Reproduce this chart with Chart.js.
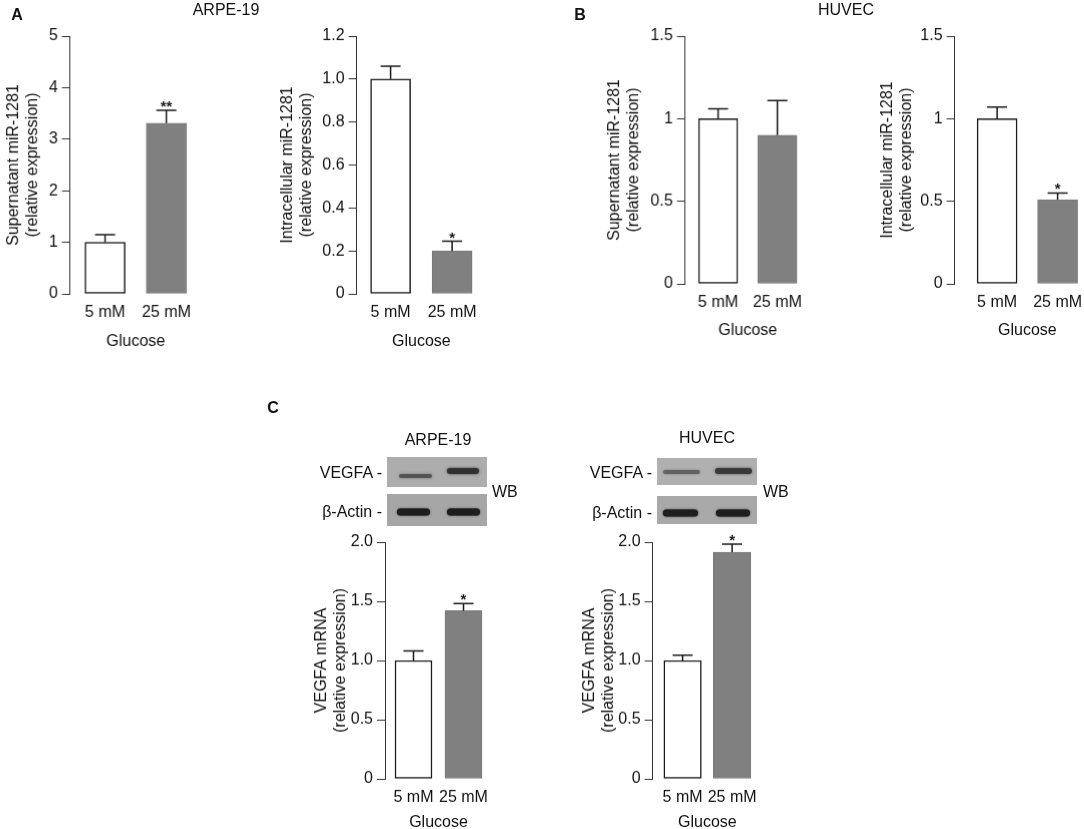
<!DOCTYPE html>
<html>
<head>
<meta charset="utf-8">
<script src="https://cdn.jsdelivr.net/npm/chart.js@4.4.1/dist/chart.umd.min.js"></script>
<style>
html, body { margin: 0; padding: 0; background: #fff; overflow: hidden; }
body { width: 1084px; height: 829px; position: relative; font-family: "Liberation Sans", Arial, sans-serif; color: #111; }
.box { position: absolute; }
.lbl { position: absolute; font-size: 16px; line-height: 16px; white-space: nowrap; transform: translate(-50%, -50%); }
.r { transform: translate(-100%, -50%); }
.l { transform: translate(0, -50%); }
.b { font-weight: bold; }
#blots { position: absolute; left: 0; top: 0; }
</style>
</head>
<body>
<canvas id="blots" width="1084" height="829"></canvas>

<div class="lbl b" style="left:17px;top:15px">A</div>
<div class="lbl" style="left:226px;top:10px">ARPE-19</div>
<div class="lbl b" style="left:580px;top:15px">B</div>
<div class="lbl" style="left:846px;top:10px">HUVEC</div>
<div class="lbl b" style="left:273px;top:408px">C</div>

<div class="lbl" style="left:438px;top:440px">ARPE-19</div>
<div class="lbl r" style="left:382px;top:473px">VEGFA -</div>
<div class="lbl r" style="left:382px;top:512px">β-Actin -</div>
<div class="lbl l" style="left:492px;top:492px">WB</div>

<div class="lbl" style="left:707px;top:438px">HUVEC</div>
<div class="lbl r" style="left:652px;top:473px">VEGFA -</div>
<div class="lbl r" style="left:652px;top:513px">β-Actin -</div>
<div class="lbl l" style="left:763px;top:492px">WB</div>

<script>
// categories and values
var categories = ['5 mM', '25 mM'];

var arpeSupValues = [1.0, 3.31];
var arpeSupErrors = [0.15, 0.25];
var arpeSupSig = ['', '**'];
var arpeSupTicks = [0, 1, 2, 3, 4, 5];
var arpeSupTickLabels = ['0', '1', '2', '3', '4', '5'];

var arpeIntValues = [1.0, 0.2];
var arpeIntErrors = [0.06, 0.045];
var arpeIntSig = ['', '*'];
var arpeIntTicks = [0, 0.2, 0.4, 0.6, 0.8, 1.0, 1.2];
var arpeIntTickLabels = ['0', '0.2', '0.4', '0.6', '0.8', '1.0', '1.2'];

var huvecSupValues = [1.0, 0.9];
var huvecSupErrors = [0.06, 0.21];
var huvecSupSig = ['', ''];

var huvecIntValues = [1.0, 0.51];
var huvecIntErrors = [0.07, 0.04];
var huvecIntSig = ['', '*'];

var huvecTicks = [0, 0.5, 1, 1.5];
var huvecTickLabels = ['0', '0.5', '1', '1.5'];

var arpeVegfaValues = [1.0, 1.42];
var arpeVegfaErrors = [0.08, 0.06];
var arpeVegfaSig = ['', '*'];

var huvecVegfaValues = [1.0, 1.915];
var huvecVegfaErrors = [0.045, 0.068];
var huvecVegfaSig = ['', '*'];

var vegfaTicks = [0, 0.5, 1.0, 1.5, 2.0];
var vegfaTickLabels = ['0', '0.5', '1.0', '1.5', '2.0'];

var supTitle = ['Supernatant miR-1281', '(relative expression)'];
var intTitle = ['Intracellular miR-1281', '(relative expression)'];
var vegfaTitle = ['VEGFA mRNA', '(relative expression)'];
var xTitle = 'Glucose';

Chart.defaults.font.family = '"Liberation Sans", Arial, sans-serif';
Chart.defaults.font.size = 16;
Chart.defaults.color = '#111';

// error bars + significance marks, drawn on top of the bars
var errorBars = {
    id: 'errorBars',
    afterDatasetsDraw: function (chart) {
        var ctx = chart.ctx;
        var ys = chart.scales.y;
        var ds = chart.data.datasets[0];
        var meta = chart.getDatasetMeta(0);
        ctx.save();
        ctx.strokeStyle = '#1a1a1a';
        ctx.fillStyle = '#1a1a1a';
        ctx.lineWidth = 1.5;
        ctx.font = 'bold 15px "Liberation Sans", Arial, sans-serif';
        ctx.textAlign = 'center';
        ctx.textBaseline = 'alphabetic';
        meta.data.forEach(function (bar, i) {
            var v = ds.data[i].y;
            var y0 = ys.getPixelForValue(v);
            var y1 = ys.getPixelForValue(v + ds.errors[i]);
            ctx.beginPath();
            ctx.moveTo(bar.x, y0);
            ctx.lineTo(bar.x, y1);
            ctx.moveTo(bar.x - 10, y1);
            ctx.lineTo(bar.x + 10, y1);
            ctx.stroke();
            if (ds.sig[i]) ctx.fillText(ds.sig[i], bar.x, y1 + 1);
        });
        ctx.restore();
    }
};

function makeChart(lay, values, errors, sig, ticks, tickLabels, yTitle) {
    var u = lay.c2 - lay.c1;
    var side = (lay.c1 - lay.axisX) / u;
    var areaW = (1 + 2 * side) * u;
    var padTop = 20, padRight = 24;
    var yw = lay.axisX - lay.scaleLeft;
    var xh = lay.glucoseY + 9.6 - lay.bottom;

    var div = document.createElement('div');
    div.className = 'box';
    div.style.left = lay.scaleLeft + 'px';
    div.style.top = (lay.top - padTop) + 'px';
    div.style.width = (yw + areaW + padRight) + 'px';
    div.style.height = (padTop + lay.bottom - lay.top + xh) + 'px';
    var cv = document.createElement('canvas');
    div.appendChild(cv);
    document.body.appendChild(div);

    return new Chart(cv.getContext('2d'), {
        type: 'bar',
        data: {
            datasets: [{
                data: values.map(function (v, i) { return { x: i + 1, y: v }; }),
                errors: errors,
                sig: sig,
                backgroundColor: ['#ffffff', '#808080'],
                borderColor: ['#1a1a1a', '#7a7a7a'],
                borderWidth: [1.5, 1],
                borderSkipped: false,
                barThickness: lay.barW
            }]
        },
        options: {
            responsive: true,
            maintainAspectRatio: false,
            animation: false,
            layout: { padding: { top: padTop, right: padRight, left: 0, bottom: 0 } },
            plugins: { legend: { display: false }, tooltip: { enabled: false } },
            scales: {
                x: {
                    type: 'linear',
                    offset: false,
                    min: 1 - side,
                    max: 2 + side,
                    afterBuildTicks: function (s) {
                        s.ticks = categories.map(function (c, i) { return { value: i + 1 }; });
                    },
                    afterFit: function (s) { s.height = xh; },
                    grid: { display: false, drawTicks: false, offset: false },
                    border: { display: false },
                    ticks: {
                        autoSkip: false,
                        maxRotation: 0,
                        padding: 9,
                        callback: function (v) { return categories[v - 1]; }
                    },
                    title: { display: true, text: xTitle, padding: 0 }
                },
                y: {
                    min: 0,
                    max: ticks[ticks.length - 1],
                    afterBuildTicks: function (s) {
                        s.ticks = ticks.map(function (t) { return { value: t }; });
                    },
                    afterFit: function (s) { s.width = yw; },
                    grid: { drawOnChartArea: false, drawTicks: true, tickLength: 8, color: '#333', lineWidth: 1 },
                    border: { display: true, color: '#333', width: 1 },
                    ticks: {
                        padding: 4,
                        callback: function (v, i) { return tickLabels[i]; }
                    },
                    title: { display: true, text: yTitle, padding: 0 }
                }
            }
        },
        plugins: [errorBars]
    });
}

makeChart({ scaleLeft: 4.4, axisX: 70, top: 36, bottom: 293, c1: 105, c2: 166, barW: 40, glucoseY: 341 },
    arpeSupValues, arpeSupErrors, arpeSupSig, arpeSupTicks, arpeSupTickLabels, supTitle);
makeChart({ scaleLeft: 278.4, axisX: 357, top: 36, bottom: 293, c1: 391, c2: 452.5, barW: 40, glucoseY: 341 },
    arpeIntValues, arpeIntErrors, arpeIntSig, arpeIntTicks, arpeIntTickLabels, intTitle);
makeChart({ scaleLeft: 605.4, axisX: 685, top: 36, bottom: 283, c1: 718, c2: 777, barW: 39, glucoseY: 330 },
    huvecSupValues, huvecSupErrors, huvecSupSig, huvecTicks, huvecTickLabels, supTitle);
makeChart({ scaleLeft: 878.4, axisX: 955, top: 36, bottom: 283, c1: 997.5, c2: 1058, barW: 40, glucoseY: 330 },
    huvecIntValues, huvecIntErrors, huvecIntSig, huvecTicks, huvecTickLabels, intTitle);
makeChart({ scaleLeft: 312, axisX: 385, top: 542, bottom: 778, c1: 413.5, c2: 463.5, barW: 37, glucoseY: 822 },
    arpeVegfaValues, arpeVegfaErrors, arpeVegfaSig, vegfaTicks, vegfaTickLabels, vegfaTitle);
makeChart({ scaleLeft: 580.4, axisX: 653, top: 542, bottom: 778, c1: 683, c2: 732.5, barW: 37.5, glucoseY: 822 },
    huvecVegfaValues, huvecVegfaErrors, huvecVegfaSig, vegfaTicks, vegfaTickLabels, vegfaTitle);

// western blot strips (picture, not data)
var bctx = document.getElementById('blots').getContext('2d');
function strip(x, y, w, h, bg) {
    bctx.fillStyle = bg;
    bctx.fillRect(x, y, w, h);
}
function band(x0, x1, y, thick, color, blur) {
    bctx.save();
    bctx.strokeStyle = color;
    bctx.lineWidth = thick;
    bctx.lineCap = 'round';
    bctx.shadowColor = color;
    bctx.shadowBlur = blur;
    bctx.beginPath();
    bctx.moveTo(x0 + thick / 2, y);
    bctx.lineTo(x1 - thick / 2, y);
    bctx.stroke();
    bctx.restore();
}
strip(387, 457, 100, 30, '#adadad');
band(399, 432, 476, 4, 'rgba(70,70,70,0.75)', 3);
band(447, 479, 471, 6, 'rgba(45,45,45,0.9)', 3);
strip(387, 494, 100, 32, '#a6a6a6');
band(397, 430, 512, 7, '#1e1e1e', 2);
band(447, 480, 512, 7, '#1e1e1e', 2);

strip(657, 458, 100, 27, '#b0b0b0');
band(663, 700, 472, 4, 'rgba(80,80,80,0.7)', 3);
band(715, 752, 471, 6, 'rgba(50,50,50,0.85)', 3);
strip(657, 496, 100, 28, '#a8a8a8');
band(663, 698, 513, 7, '#1e1e1e', 2);
band(716, 750, 513, 7, '#1e1e1e', 2);
</script>
</body>
</html>
